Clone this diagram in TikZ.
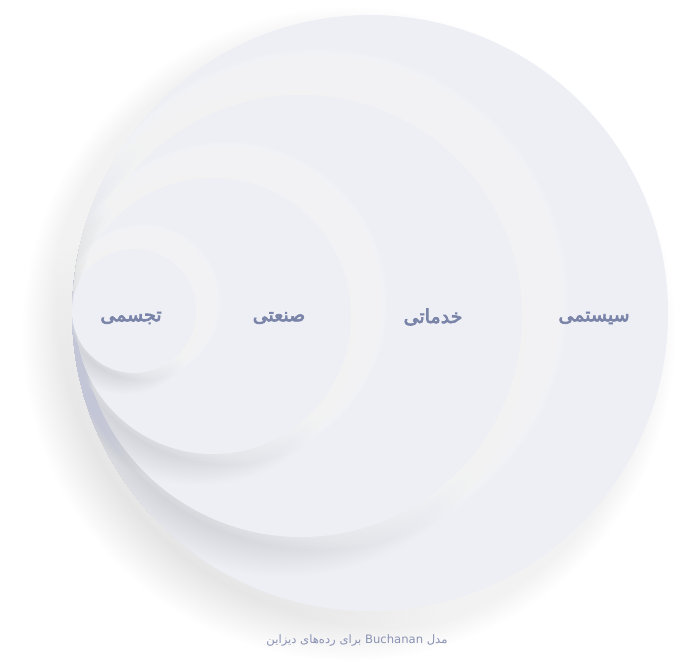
\documentclass[tikz,border=0pt]{standalone}
\usepackage{fontspec}
\newfontfamily\fa[Script=Arabic]{DejaVu Sans}
\newfontfamily\fab[Script=Arabic,FakeBold=3.5]{DejaVu Sans}
\TeXXeTstate=1
\definecolor{surf}{HTML}{EDEFF5}
\definecolor{shd}{HTML}{C2C6D6}
\definecolor{lbl}{HTML}{7A84A8}
\definecolor{capc}{HTML}{8A92B4}
\tikzset{
  lbltext/.style={font=\fab\fontsize{19}{22}\selectfont, text=lbl, inner sep=0pt},
  captext/.style={font=\fa\fontsize{11.6}{14}\selectfont, text=capc, inner sep=0pt},
  discnode/.style={circle, fill=surf, inner sep=0pt, draw=none},
}
% #1 cx, #2 cy, #3 r, #4 shadow offset, #5 shadow opacity per ring
\newcommand\ringshadows[5]{%
  \foreach \k in {0,...,39}{\fill[shd, opacity=#5] ({#1-0.7*#4},{#2+0.7*#4}) circle[radius={#3-1.5*#4+\k*0.0625*#4}];}
  \foreach \k in {0,...,39}{\fill[white, opacity=0.075] ({#1+0.7*#4},{#2-0.7*#4}) circle[radius={#3-1.5*#4+\k*0.07*#4}];}
}
\begin{document}
\begin{tikzpicture}[x=1pt,y=-1pt]
\fill[white] (0,0) rectangle (684,661);
\useasboundingbox (0,0) rectangle (684,661);
\ringshadows{370}{313}{298}{30}{0.014}
\node[discnode, minimum size=596] (sys) at (370,313) {};
\begin{scope}
  \clip (370,313) circle[radius=298];
  \ringshadows{301}{316}{221}{24}{0.011}
  \node[discnode, minimum size=442] (srv) at (301,316) {};
  \ringshadows{213}{316}{138}{19}{0.010}
  \node[discnode, minimum size=276] (ind) at (213,316) {};
  \ringshadows{134}{311}{62}{13}{0.010}
  \node[discnode, minimum size=124] (vis) at (134,311) {};
\end{scope}
\node[lbltext] (lvis) at (131,318) {\beginR تجسمی\endR};
\node[lbltext] (lind) at (279,318) {\beginR صنعتی\endR};
\node[lbltext] (lsrv) at (433,317) {\beginR خدماتی\endR};
\node[lbltext] (lsys) at (594,318) {\beginR سیستمی\endR};
\node[captext] (cap) at (357,640) {\beginR مدل \beginL Buchanan\endL{} برای رده‌های دیزاین\endR};
\end{tikzpicture}
\end{document}
